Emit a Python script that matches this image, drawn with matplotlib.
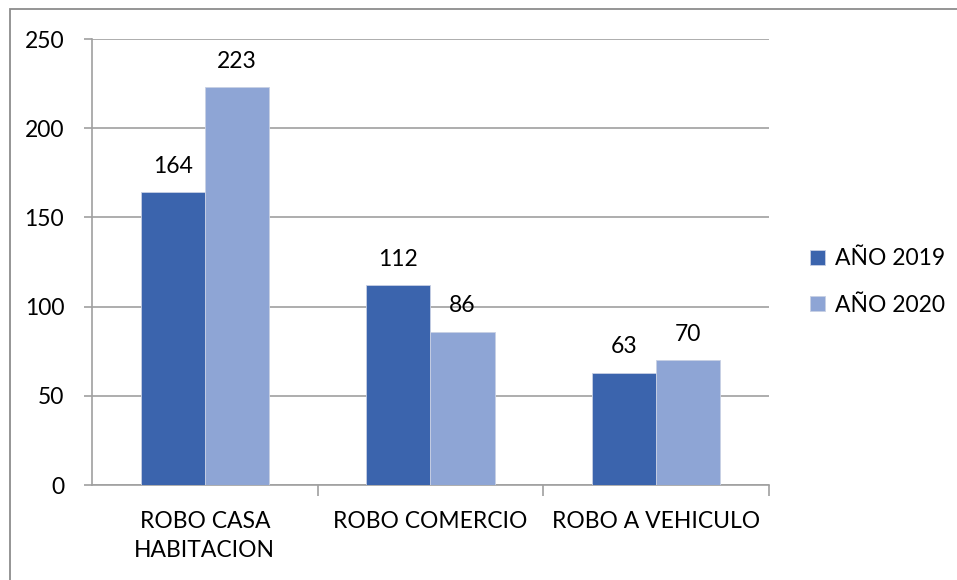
import numpy as np
import matplotlib.pyplot as plt
from matplotlib.patches import Rectangle

categorias = ['ROBO CASA\nHABITACION', 'ROBO COMERCIO', 'ROBO A VEHICULO']
anio_2019 = [164, 112, 63]
anio_2020 = [223, 86, 70]
series = ['AÑO 2019', 'AÑO 2020']
colores = ['#3B64AD', '#8EA5D5']

plt.rcParams['font.family'] = ['Lato', 'DejaVu Sans']
fs = 16.5

fig = plt.figure(figsize=(9.57, 5.8), dpi=100)
fig.patches.append(Rectangle((10 / 957, -0.1), 1.2, 1 - 9 / 580 + 0.1,
                             transform=fig.transFigure, fill=False,
                             edgecolor='#8C8C8C', linewidth=1.3))
ax = fig.add_axes([92 / 957, 1 - 485 / 580, 677 / 957, 446 / 580])

x = np.arange(len(categorias))
w = 0.285
b1 = ax.bar(x - w / 2, anio_2019, w, color=colores[0], label=series[0],
            edgecolor='#C8D0E4', linewidth=0.6, zorder=3)
b2 = ax.bar(x + w / 2, anio_2020, w, color=colores[1], label=series[1],
            edgecolor='#C8D0E4', linewidth=0.6, zorder=3)
for bars in (b1, b2):
    for r in bars:
        ax.annotate(f'{int(r.get_height())}', (r.get_x() + r.get_width() / 2, r.get_height()),
                    xytext=(0, 11), textcoords='offset points', ha='center', va='bottom',
                    fontsize=fs, color='black')

ax.set_xlim(-0.5, 2.5)
ax.set_ylim(0, 250)
ax.set_yticks(range(0, 251, 50))
ax.yaxis.grid(True, color='#A0A0A0', linewidth=1.2, zorder=0)
ax.tick_params(axis='y', length=6, color='#A0A0A0', width=1.2, labelsize=fs, pad=14)
ax.set_xticks(x)
ax.set_xticklabels(categorias, fontsize=fs, linespacing=1.45)
ax.set_xticks([0.5, 1.5, 2.5], minor=True)
ax.tick_params(axis='x', which='major', length=0, pad=19)
ax.tick_params(axis='x', which='minor', length=8, color='#A0A0A0', width=1.2)
for s in ['top', 'right']:
    ax.spines[s].set_visible(False)
for s in ['left', 'bottom']:
    ax.spines[s].set_color('#A0A0A0')
    ax.spines[s].set_linewidth(1.2)

ax.legend(loc='center left', bbox_to_anchor=(1.03, 0.455), frameon=False, fontsize=fs,
          handlelength=0.65, handleheight=0.65, handletextpad=0.45, labelspacing=1.1)

fig.savefig('out.png', dpi=100)
